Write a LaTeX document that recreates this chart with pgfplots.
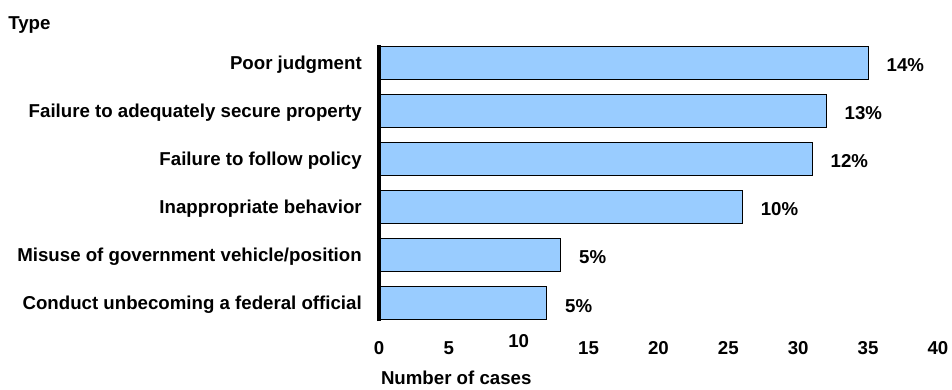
\documentclass[border=0pt]{standalone}
\usepackage{fontspec}
\setmainfont{Liberation Sans}
\usepackage{pgfplots}
\pgfplotsset{compat=1.18}
\definecolor{barblue}{HTML}{99CCFF}
\newcommand\lf{\fontsize{14pt}{16.8pt}\selectfont\bfseries}
\begin{document}
\begin{tikzpicture}
\path[use as bounding box] (0,0) rectangle (714pt,291.75pt);
\node[anchor=base west, inner sep=0, font=\lf] at (6pt,269.25pt) {Type};
\begin{axis}[
  at={(284.25pt,51pt)}, anchor=south west,
  scale only axis, width=419.25pt, height=207pt,
  xbar, bar width=0.708,
  xmin=0, xmax=40, ymin=-0.375, ymax=5.375,
  axis y line*=left, axis x line*=bottom,
  x axis line style={draw=none},
  y axis line style={line width=3pt, -},
  axis on top,
  xtick={0,5,...,40},
  xticklabels={0,5,\raisebox{5.25pt}{10},15,20,25,30,35,40},
  ytick={0,...,5},
  yticklabels={Conduct unbecoming a federal official,
               Misuse of government vehicle/position,
               Inappropriate behavior,
               Failure to follow policy,
               Failure to adequately secure property,
               Poor judgment},
  major tick length=0pt, tick style={draw=none},
  /pgf/number format/assume math mode=true,
  xticklabel style={font=\lf, anchor=base, inner sep=0pt, yshift=-25pt},
  yticklabel style={font=\lf, anchor=base east, inner sep=0pt, xshift=-12.75pt, yshift=-5pt},
  xlabel={Number of cases},
  xlabel style={font=\lf, at={(rel axis cs:0,0)}, anchor=base west, inner sep=0pt, xshift=1.3pt, yshift=-47.5pt},
  nodes near coords,
  point meta=explicit symbolic,
  nodes near coords style={font=\lf, anchor=base west, inner sep=0pt, xshift=13.5pt, yshift=-6.75pt},
]
\addplot[fill=barblue, draw=black, line width=0.75pt] coordinates {
  (12,0) [5\%]
  (13,1) [5\%]
  (26,2) [10\%]
  (31,3) [12\%]
  (32,4) [13\%]
  (35,5) [14\%]
};
\end{axis}
\end{tikzpicture}
\end{document}
